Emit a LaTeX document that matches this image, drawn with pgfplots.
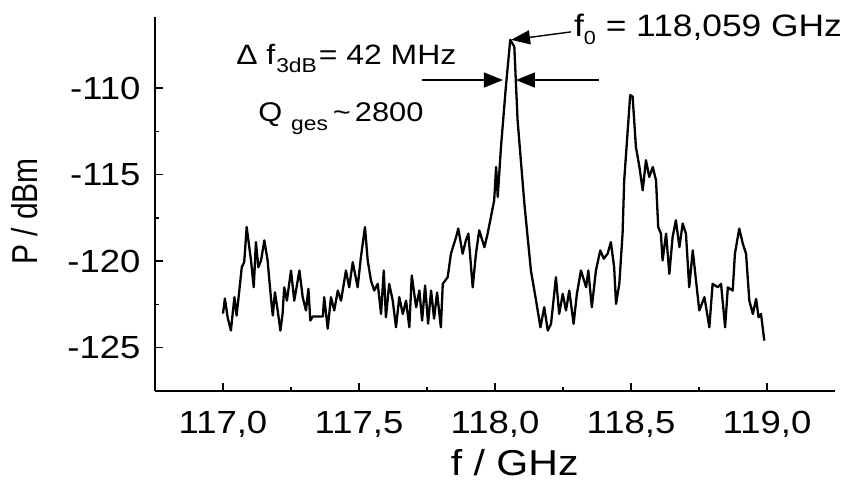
\documentclass[border=0pt]{standalone}
\usepackage{fontspec}
\setmainfont{Liberation Sans}[FakeStretch=1.14]
\newfontfamily\plainsans{Liberation Sans}
\usepackage{pgfplots}
\pgfplotsset{compat=1.18}
\usetikzlibrary{arrows.meta}
\usepackage{graphicx}

\pgfplotstableread{
x y
117.000 -123.03
117.007 -122.16
117.017 -123.24
117.029 -124.01
117.042 -122.08
117.050 -123.14
117.060 -121.70
117.069 -120.35
117.078 -120.06
117.087 -118.03
117.103 -119.96
117.113 -121.51
117.121 -118.90
117.130 -120.35
117.140 -119.96
117.152 -118.80
117.164 -119.96
117.176 -122.08
117.183 -123.14
117.191 -121.80
117.201 -122.85
117.211 -124.01
117.219 -123.05
117.225 -121.51
117.235 -122.28
117.250 -120.54
117.262 -122.28
117.281 -120.54
117.293 -122.08
117.305 -122.85
117.314 -121.60
117.321 -123.43
117.330 -123.20
117.367 -123.20
117.372 -122.08
117.385 -123.90
117.397 -122.08
117.409 -122.85
117.422 -121.70
117.434 -122.28
117.452 -120.54
117.464 -121.51
117.477 -120.06
117.495 -121.51
117.507 -119.77
117.522 -118.03
117.532 -119.96
117.544 -121.12
117.556 -121.70
117.569 -121.31
117.581 -123.05
117.591 -120.54
117.599 -123.24
117.611 -121.31
117.624 -122.28
117.636 -123.82
117.648 -122.08
117.661 -123.05
117.673 -122.28
117.685 -123.82
117.694 -120.83
117.710 -122.66
117.722 -121.70
117.732 -123.43
117.743 -121.41
117.754 -123.61
117.765 -121.70
117.776 -123.32
117.787 -121.81
117.801 -123.82
117.808 -121.31
117.826 -120.93
117.838 -119.57
117.857 -118.61
117.865 -118.12
117.881 -119.57
117.893 -118.80
117.902 -118.41
117.918 -121.51
117.930 -119.57
117.942 -118.22
117.961 -119.19
117.973 -118.41
117.985 -117.45
117.997 -116.49
118.004 -114.56
118.010 -116.29
118.022 -113.40
118.040 -109.92
118.056 -107.22
118.071 -107.61
118.083 -111.85
118.108 -116.68
118.132 -120.54
118.151 -122.28
118.167 -123.82
118.181 -122.66
118.194 -124.01
118.206 -123.62
118.224 -120.93
118.236 -123.05
118.249 -121.89
118.261 -122.85
118.273 -121.70
118.289 -123.62
118.301 -121.89
118.316 -120.54
118.335 -121.51
118.343 -120.54
118.356 -122.66
118.371 -120.54
118.387 -119.38
118.400 -119.86
118.414 -119.57
118.426 -118.90
118.438 -120.35
118.445 -122.47
118.457 -121.31
118.469 -118.41
118.475 -115.33
118.488 -112.43
118.497 -110.41
118.506 -110.50
118.518 -113.40
118.531 -114.56
118.543 -115.91
118.555 -114.17
118.567 -115.14
118.580 -114.56
118.592 -115.33
118.600 -118.03
118.610 -118.41
118.616 -119.96
118.629 -118.41
118.641 -120.73
118.653 -118.61
118.665 -117.64
118.678 -119.19
118.690 -117.83
118.702 -118.41
118.714 -121.51
118.727 -119.38
118.739 -121.12
118.751 -122.85
118.770 -122.08
118.788 -123.82
118.800 -121.31
118.819 -121.51
118.831 -121.31
118.846 -123.82
118.856 -121.51
118.874 -121.70
118.882 -119.57
118.898 -118.12
118.911 -118.99
118.923 -119.57
118.935 -122.28
118.948 -123.05
118.960 -122.18
118.969 -123.24
118.978 -123.05
118.990 -124.59
}\spectrum

\begin{document}
\begin{tikzpicture}
\useasboundingbox (-155pt,-94pt) rectangle (703pt,391pt);
\begin{axis}[
  at={(0,0)}, anchor=south west,
  scale only axis, width=680pt, height=374pt,
  xmin=116.75, xmax=119.25, ymin=-127.5, ymax=-105.9,
  axis x line*=bottom, axis y line*=left,
  axis line style={line width=1.8pt,-},
  tick align=inside,
  xtick={117,117.5,118,118.5,119},
  xticklabels={{117,0},{117,5},{118,0},{118,5},{119,0}},
  ytick={-125,-120,-115,-110},
  yticklabels={-125,-120,-115,-110},
  minor x tick num=1, minor y tick num=1,
  major tick length=8pt, minor tick length=4pt,
  every tick/.style={line width=1.5pt,black},
  tick label style={font=\fontsize{32}{36}\selectfont},
  xticklabel style={anchor=base,yshift=-42pt},
  yticklabel style={anchor=east,xshift=-11pt},
  xlabel={f / GHz}, ylabel={\scalebox{1}[1.2]{P / dBm}},
  every axis x label/.style={at={(axis description cs:0.529,-0.227)},anchor=base,font=\fontsize{36}{40}\selectfont},
  every axis y label/.style={at={(axis description cs:-0.191,0.48)},anchor=center,rotate=90,font=\plainsans\fontsize{30}{34}\selectfont},
  clip=false,
]
\addplot[black, line width=2.3pt, line join=round, mark=none] table[x=x,y=y] {\spectrum};

\node[anchor=base west, font=\fontsize{28}{30}\selectfont, inner sep=0pt] at (axis cs:117.048,-108.67)
  {Δ f\hspace{1pt}\raisebox{-8pt}{\fontsize{20}{20}\selectfont 3dB}\hspace{2pt}= 42 MHz};
\node[anchor=base west, font=\fontsize{27}{30}\selectfont, inner sep=0pt] at (axis cs:117.129,-111.91)
  {Q\hspace{9pt}\raisebox{-9pt}{\fontsize{20}{20}\selectfont ges}\hspace{5pt}\textasciitilde\hspace{4pt}2800};
\node[anchor=base west, font=\fontsize{31}{33}\selectfont, inner sep=0pt] at (axis cs:118.290,-107.05)
  {f\raisebox{-8pt}{\fontsize{19}{19}\selectfont 0} = 118,059 GHz};

\draw[line width=1.4pt, -{Triangle[length=19pt,width=14pt]}] (axis cs:118.279,-106.76) -- (axis cs:118.059,-107.22);
\draw[line width=1.4pt, -{Triangle[length=19pt,width=15pt]}] (axis cs:117.732,-109.54) -- (axis cs:118.029,-109.54);
\draw[line width=1.4pt, -{Triangle[length=19pt,width=15pt]}] (axis cs:118.382,-109.54) -- (axis cs:118.077,-109.54);
\end{axis}
\end{tikzpicture}
\end{document}
